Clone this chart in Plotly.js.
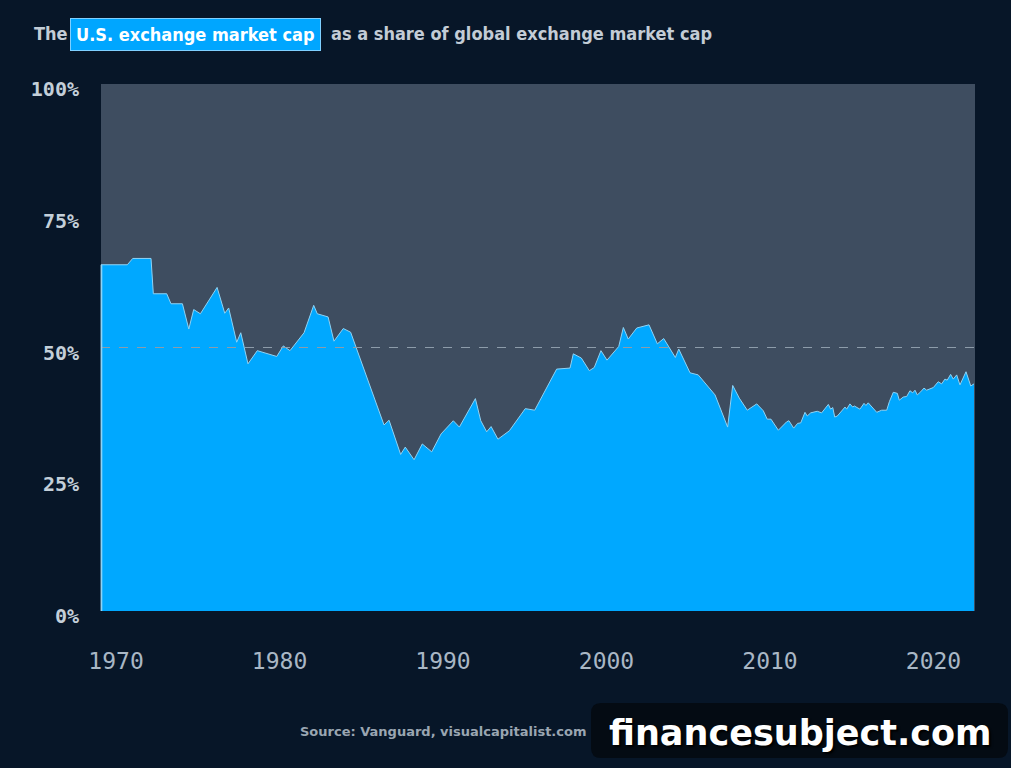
<!DOCTYPE html>
<html>
<head>
<meta charset="utf-8">
<script src="https://cdn.plot.ly/plotly-3.0.1.min.js"></script>
<style>
  html, body { margin: 0; padding: 0; background: #071628; }
  #chart { width: 1011px; height: 768px; }
</style>
</head>
<body>
<div id="chart"></div>
<script>
// U.S. exchange market cap as a share of global exchange market cap (%)
const years = [
  1969.08, 1970.69, 1971.02, 1972.14, 1972.28, 1973.10, 1973.36, 1974.06, 1974.45, 1974.75,
  1975.16, 1976.18, 1976.65, 1976.89, 1977.38, 1977.63, 1978.07, 1978.64, 1979.83, 1980.23,
  1980.64, 1981.50, 1982.09, 1982.31, 1982.97, 1983.33, 1983.90, 1984.35, 1986.39, 1986.70,
  1987.41, 1987.69, 1988.23, 1988.73, 1989.31, 1989.88, 1990.63, 1991.00, 1991.98, 1992.31,
  1992.67, 1992.94, 1993.36, 1994.06, 1995.03, 1995.61, 1996.95, 1997.77, 1997.97, 1998.46,
  1998.95, 1999.25, 1999.66, 2000.03, 2000.75, 2001.03, 2001.33, 2001.85, 2002.60, 2003.11,
  2003.50, 2004.21, 2004.42, 2005.11, 2005.61, 2006.64, 2007.41, 2007.72, 2008.12, 2008.61,
  2009.19, 2009.59, 2009.83, 2010.06, 2010.51, 2011.02, 2011.16, 2011.45, 2011.69, 2011.88,
  2012.14, 2012.28, 2012.49, 2012.89, 2013.16, 2013.57, 2013.71, 2013.84, 2013.96, 2014.12,
  2014.59, 2014.69, 2014.89, 2015.06, 2015.16, 2015.50, 2015.75, 2015.87, 2016.01, 2016.53,
  2016.83, 2017.14, 2017.30, 2017.54, 2017.79, 2017.91, 2018.15, 2018.36, 2018.56, 2018.73,
  2018.87, 2019.01, 2019.22, 2019.42, 2019.58, 2019.79, 2019.99, 2020.29, 2020.50, 2020.70,
  2020.84, 2021.05, 2021.21, 2021.42, 2021.62, 2021.99, 2022.28, 2022.48
];
const usShare = [
  65.7, 65.7, 66.9, 66.9, 60.2, 60.2, 58.3, 58.3, 53.5, 57.2,
  56.4, 61.4, 56.5, 57.5, 51.0, 52.8, 46.9, 49.4, 48.3, 50.3,
  49.4, 52.8, 58.0, 56.4, 55.8, 51.2, 53.6, 52.9, 35.3, 36.2,
  29.7, 31.1, 28.7, 31.7, 30.2, 33.6, 36.1, 34.9, 40.3, 36.1,
  34.0, 35.0, 32.6, 34.2, 38.4, 38.1, 45.9, 46.1, 48.8, 48.0,
  45.6, 46.2, 49.4, 47.6, 50.2, 53.8, 51.6, 53.7, 54.3, 50.7,
  51.7, 48.1, 49.7, 45.2, 44.8, 41.0, 34.9, 42.8, 40.4, 38.1,
  39.3, 38.0, 36.4, 36.4, 34.3, 35.9, 36.1, 34.7, 35.6, 35.7,
  37.7, 37.0, 37.6, 37.9, 37.6, 39.2, 38.3, 38.6, 36.8, 37.0,
  38.7, 38.3, 39.3, 38.7, 38.9, 38.3, 39.4, 39.0, 39.5, 37.7,
  38.1, 38.1, 39.7, 41.5, 41.3, 40.0, 40.6, 40.7, 41.8, 41.4,
  41.9, 41.0, 41.6, 42.3, 41.9, 42.1, 42.4, 43.5, 43.1, 44.0,
  43.8, 44.9, 44.0, 44.8, 42.9, 45.4, 42.7, 43.1
];
const xTickVals = [1970, 1980, 1990, 2000, 2010, 2020];
const xTickText = ["1970", "1980", "1990", "2000", "2010", "2020"];
const yTickVals = [0, 25, 50, 75, 100];
const yTickText = ["0%", "25%", "50%", "75%", "100%"];
const referenceLevel = 50;

const titleFont = "DejaVu Sans Condensed, DejaVu Sans, sans-serif";

const trace = {
  x: years,
  y: usShare,
  type: "scatter",
  mode: "lines",
  fill: "tozeroy",
  fillcolor: "#00a8ff",
  line: { color: "#8fd3f5", width: 1 },
  hoverinfo: "skip"
};

// pixel -> paper helpers (plot area: x 101..975, y 84..611)
const px = v => (v - 101) / 874;
const py = v => (611 - v) / 527;

const wmPath = (() => {
  const x0 = px(591), x1 = px(1008), yT = py(703), yB = py(758);
  const rx = 10 / 874, ry = 10 / 527;
  return `M ${x0 + rx},${yT} L ${x1 - rx},${yT} Q ${x1},${yT} ${x1},${yT - ry} ` +
         `L ${x1},${yB + ry} Q ${x1},${yB} ${x1 - rx},${yB} L ${x0 + rx},${yB} ` +
         `Q ${x0},${yB} ${x0},${yB + ry} L ${x0},${yT - ry} Q ${x0},${yT} ${x0 + rx},${yT} Z`;
})();

const layout = {
  width: 1011,
  height: 768,
  paper_bgcolor: "#071628",
  plot_bgcolor: "#3e4d60",
  margin: { l: 101, r: 36, t: 84, b: 157 },
  showlegend: false,
  xaxis: {
    range: [1969.08, 2022.54],
    tickvals: xTickVals,
    ticktext: xTickText,
    showgrid: false,
    zeroline: false,
    showline: false,
    ticks: "",
    ticklabelstandoff: 34,
    tickfont: { family: "DejaVu Sans Mono, monospace", size: 23, color: "#a9b7c5" }
  },
  yaxis: {
    range: [0, 100],
    tickvals: yTickVals,
    ticktext: yTickText,
    showgrid: false,
    zeroline: false,
    showline: false,
    ticks: "",
    ticklabelstandoff: 21,
    ticklabelshift: 5,
    tickfont: { family: "DejaVu Sans Mono, monospace", size: 20, color: "#c3cfd9", weight: "bold" }
  },
  shapes: [
    {
      type: "line", xref: "paper", x0: 0, x1: 1, yref: "y", y0: referenceLevel, y1: referenceLevel,
      line: { color: "#8d9caa", width: 1.2, dash: "dash" }
    },
    {
      type: "rect", xref: "paper", yref: "paper", x0: -0.0005, x1: 0.0015, y0: 0, y1: 0.657,
      line: { width: 0 }, fillcolor: "#8fd3f5", layer: "above"
    },
    {
      type: "path", xref: "paper", yref: "paper", layer: "above",
      path: wmPath, fillcolor: "#040b13", line: { width: 0 }
    }
  ],
  annotations: [
    {
      xref: "paper", yref: "paper", x: px(32), y: py(34),
      xanchor: "left", yanchor: "middle", showarrow: false,
      text: "The", font: { family: titleFont, size: 18, color: "#c3ccd6", weight: "bold" }
    },
    {
      xref: "paper", yref: "paper", x: px(70), y: py(34.5),
      xanchor: "left", yanchor: "middle", showarrow: false,
      text: "U.S. exchange market cap",
      font: { family: titleFont, size: 18, color: "#ffffff", weight: "bold" },
      bgcolor: "#00a6ff", bordercolor: "#7fd0ff", borderwidth: 1, borderpad: 5
    },
    {
      xref: "paper", yref: "paper", x: px(329), y: py(34),
      xanchor: "left", yanchor: "middle", showarrow: false,
      text: "as a share of global exchange market cap",
      font: { family: titleFont, size: 18, color: "#c3ccd6", weight: "bold" }
    },
    {
      xref: "paper", yref: "paper", x: px(588), y: py(731),
      xanchor: "right", yanchor: "middle", showarrow: false,
      text: "Source: Vanguard, visualcapitalist.com",
      font: { family: "DejaVu Sans, sans-serif", size: 13, color: "#9aa6b2", weight: "bold" }
    },
    {
      xref: "paper", yref: "paper", x: px(800), y: py(733),
      xanchor: "center", yanchor: "middle", showarrow: false,
      text: "financesubject.com",
      font: { family: "DejaVu Sans, sans-serif", size: 35, color: "#ffffff", weight: "bold",
              shadow: "2px 2px 2px #000000" }
    }
  ]
};

Plotly.newPlot("chart", [trace], layout, { displayModeBar: false, staticPlot: true });
</script>
</body>
</html>
